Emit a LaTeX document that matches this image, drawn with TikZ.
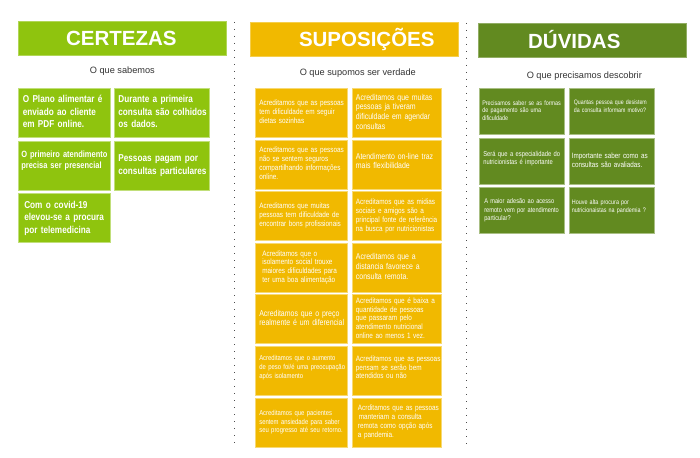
\documentclass[tikz,border=0pt]{standalone}
\usepackage{fontspec}
\setmainfont{Liberation Sans}
\newfontfamily\narrowfont[FakeStretch=0.82]{Liberation Sans}
\usetikzlibrary{positioning}

\definecolor{certgreen}{RGB}{143,196,14}
\definecolor{supyellow}{RGB}{241,185,0}
\definecolor{duvgreen}{RGB}{98,138,32}

% lines of a sticky note, never broken
\newcommand\notelines[1]{\begin{tabular}{@{}l@{}}#1\end{tabular}}

\begin{document}
\begin{tikzpicture}[
  x=1pt, y=-1pt,
  head/.style={fill=#1, draw=#1!70!white, line width=0.6pt, anchor=north west,
               minimum width=208pt, minimum height=34pt, inner sep=0pt},
  headtxt/.style={text=white, anchor=base, inner sep=0pt,
                  font=\fontsize{20.5}{24}\selectfont\bfseries},
  sub/.style={text=black!80, anchor=base, inner sep=0pt,
              font=\fontsize{9.2}{11}\selectfont},
  note/.style={fill=#1, draw=#1!55!white, line width=0.6pt, text=white,
               align=left, anchor=north west, inner ysep=2pt},
  lnote/.style={note=certgreen, text width=83pt, minimum height=49pt, inner xsep=4.5pt,
                font=\narrowfont\bfseries\fontsize{10}{12.5}\selectfont},
  mnote/.style={note=supyellow, text width=84pt, minimum height=49pt, inner xsep=4pt,
                font=\narrowfont\fontsize{7.8}{8.9}\selectfont},
  dnote/.style={note=duvgreen, text width=79pt, minimum height=46pt, inner xsep=3pt,
                font=\narrowfont\fontsize{6.6}{7.8}\selectfont},
  big/.style={font=\narrowfont\fontsize{8.5}{9.6}\selectfont},
  small/.style={font=\narrowfont\fontsize{7.2}{8.6}\selectfont},
  sep/.style={draw=black!70, line width=0.9pt, dash pattern=on 0.9pt off 6.1pt},
]
\path[fill=white] (0,0) rectangle (700,457);
\useasboundingbox (0,0) rectangle (700,457);

% ---------- Certezas ----------
\node[head=certgreen] (cert) at (18,21) {};
\node[headtxt] (certtit) at ([xshift=-1pt,yshift=10pt]cert.south) {CERTEZAS};
\node[sub] (certsub) at ([yshift=-18pt]cert.south) {O que sabemos};

\node[lnote] (c1) at (18,88) {\notelines{O Plano alimentar é\\enviado ao cliente\\em PDF online.}};
\node[lnote, right=3pt of c1, text width=86pt] (c2)
  {\notelines{Durante a primeira\\consulta são colhidos\\os dados.}};
\node[lnote, below=3pt of c1, inner xsep=3pt, text width=86pt,
      font=\narrowfont\bfseries\fontsize{9.1}{10.5}\selectfont] (c3)
  {\notelines{O primeiro atendimento\\precisa ser presencial\\[9pt]}};
\node[lnote, below=3pt of c2, text width=86pt] (c4)
  {\notelines{Pessoas pagam por\\consultas particulares}};
\node[lnote, below=3pt of c3, inner xsep=4.5pt, text width=83pt] (c5)
  {\notelines{\hspace*{1.5pt}Com o covid-19\\\hspace*{1.5pt}elevou-se a procura\\\hspace*{1.5pt}por telemedicina}};

% ---------- Suposicoes ----------
\node[head=supyellow] (sup) at (250,22) {};
\node[headtxt] (suptit) at ([xshift=12.5pt,yshift=10pt]sup.south) {SUPOSIÇÕES};
\node[sub] (supsub) at ([xshift=3.5pt,yshift=-19pt]sup.south) {O que supomos ser verdade};

\node[mnote] (s1) at (255,88)
  {\notelines{Acreditamos que as pessoas\\tem dificuldade em seguir\\dietas sozinhas}};
\node[mnote, big, right=4pt of s1, text width=81pt] (s2)
  {\notelines{Acreditamos que muitas\\pessoas ja tiveram\\dificuldade em agendar\\consultas}};
\node[mnote, below=2pt of s1] (s3)
  {\notelines{Acreditamos que as pessoas\\não se sentem seguros\\compartilhando informações\\online.}};
\node[mnote, big, below=2pt of s2, text width=81pt] (s4)
  {\notelines{Atendimento on-line traz\\mais flexibilidade\\[5pt]}};
\node[mnote, below=2pt of s3] (s5)
  {\notelines{Acreditamos que muitas\\pessoas tem dificuldade de\\encontrar bons profissionais}};
\node[mnote, below=2pt of s4, text width=81pt] (s6)
  {\notelines{Acreditamos que as midias\\sociais e amigos são a\\principal fonte de referência\\na busca por nutricionistas}};
\node[mnote, below=2pt of s5] (s7)
  {\notelines{\hspace*{3pt}Acreditamos que o\\\hspace*{3pt}isolamento social trouxe\\\hspace*{3pt}maiores dificuldades para\\\hspace*{3pt}ter uma boa alimentação}};
\node[mnote, big, below=2pt of s6, text width=81pt] (s8)
  {\notelines{Acreditamos que a\\distancia favorece a\\consulta remota.}};
\node[mnote, big, below=2pt of s7] (s9)
  {\notelines{Acreditamos que o preço\\realmente é um diferencial}};
\node[mnote, below=2pt of s8, text width=81pt] (s10)
  {\notelines{Acreditamos que é baixa a\\quantidade de pessoas\\que passaram pelo\\atendimento nutricional\\online ao menos 1 vez.}};
\node[mnote, small, below=2pt of s9] (s11)
  {\notelines{Acreditamos que o aumento\\de peso foi/é uma preocupação\\após isolamento\\[6pt]}};
\node[mnote, below=2pt of s10, text width=81pt] (s12)
  {\notelines{Acreditamos que as pessoas\\pensam se serão bem\\atendidos ou não\\[5pt]}};
\node[mnote, small, below=2pt of s11] (s13)
  {\notelines{Acreditamos que  pacientes\\sentem ansiedade para saber\\seu progresso até seu retorno.}};
\node[mnote, below=2pt of s12, text width=81pt] (s14)
  {\notelines{\hspace*{2pt}Acrditamos que as pessoas\\\hspace*{3pt}manteriam a consulta\\\hspace*{2pt}remota como opção após\\\hspace*{2pt}a pandemia.}};

% ---------- Duvidas ----------
\node[head=duvgreen] (duv) at (478,23) {};
\node[headtxt] (duvtit) at ([xshift=-8pt,yshift=9.5pt]duv.south) {DÚVIDAS};
\node[sub] (duvsub) at ([xshift=2pt,yshift=-20.5pt]duv.south) {O que precisamos descobrir};

\node[dnote] (d1) at (479,88)
  {\notelines{Precisamos saber se as formas\\de pagamento são uma\\dificuldade}};
\node[dnote, right=4pt of d1, font=\narrowfont\fontsize{6.4}{7.6}\selectfont] (d2)
  {\notelines{\hspace*{2pt}Quantas pessoa que desistem\\\hspace*{2pt}da consulta informam motivo?\\[9pt]}};
\node[dnote, below=3pt of d1, font=\narrowfont\fontsize{7.1}{8.7}\selectfont] (d3)
  {\notelines{\hspace*{1pt}Será que a especialidade do\\\hspace*{1pt}nutricionistas é importante\\[4pt]}};
\node[dnote, below=3pt of d2, font=\narrowfont\fontsize{7.7}{9}\selectfont] (d4)
  {\notelines{Importante saber como as\\consultas são avaliadas.}};
\node[dnote, below=3pt of d3, font=\narrowfont\fontsize{6.9}{8.3}\selectfont] (d5)
  {\notelines{\hspace*{2pt}A maior adesão ao acesso\\\hspace*{2pt}remoto vem por atendimento\\\hspace*{2pt}particular?}};
\node[dnote, below=3pt of d4] (d6)
  {\notelines{Houve alta procura por\\nutricionaistas na pandemia ?\\[7pt]}};

% ---------- Separators ----------
\coordinate (sepa) at (234.5,22);
\coordinate (sepb) at (234.5,445);
\coordinate (sepc) at (466.5,23);
\coordinate (sepd) at (466.5,445);
\draw[sep] (sepa) -- (sepb);
\draw[sep] (sepc) -- (sepd);

\end{tikzpicture}
\end{document}
